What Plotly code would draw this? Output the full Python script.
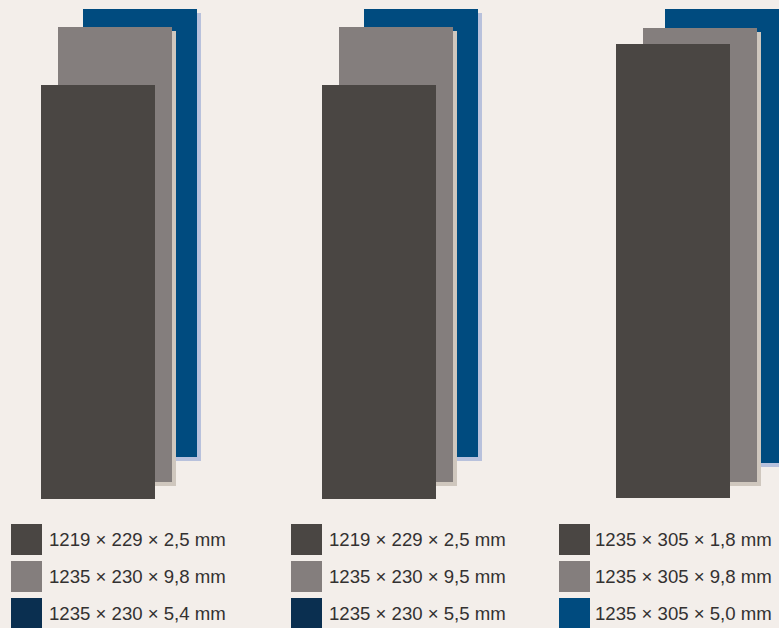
import plotly.graph_objects as go

# ---- data ----
group_labels = [
    ["1219 × 229 × 2,5 mm", "1235 × 230 × 9,8 mm", "1235 × 230 × 5,4 mm"],
    ["1219 × 229 × 2,5 mm", "1235 × 230 × 9,5 mm", "1235 × 230 × 5,5 mm"],
    ["1235 × 305 × 1,8 mm", "1235 × 305 × 9,8 mm", "1235 × 305 × 5,0 mm"],
]
# top / bottom of each tile (screen units), order: dark, gray, blue
tile_tops = [[85, 27, 9], [85, 27, 9], [44, 28, 9]]
tile_bottoms = [[499, 482, 457], [499, 482, 457], [498, 482, 463]]

# ---- layout / style ----
W, H = 779, 628
BG = "#f3eeea"
C_DARK = "#4a4643"
C_GRAY = "#847e7d"
C_BLUE = "#004b7f"
C_NAVY = "#0a2f50"
SH_GRAY = "#cfc7be"
SH_BLUE = "#b8c1dc"
TILE_W = 114
SH = 4
group_left_dark = [41, 322, 616]
group_left_gray = [58, 339, 643]
group_left_blue = [83, 364, 665]
legend_sq_x = [11, 291, 559]
legend_txt_x = [47, 327, 593]
legend_row_y = [539.5, 576.5, 613.5]
legend_colors = [[C_DARK, C_GRAY, C_NAVY], [C_DARK, C_GRAY, C_NAVY], [C_DARK, C_GRAY, C_BLUE]]

fig = go.Figure()

def add_bar(lefts, tops, bottoms, color, dx=0, dy=0):
    fig.add_trace(go.Bar(
        x=[l + TILE_W / 2 + dx for l in lefts],
        base=[t + dy for t in tops],
        y=[b - t for t, b in zip(tops, bottoms)],
        width=TILE_W,
        marker=dict(color=color, line=dict(width=0)),
        hoverinfo="skip", showlegend=False,
    ))

blue_t = [g[2] for g in tile_tops]; blue_b = [g[2] for g in tile_bottoms]
gray_t = [g[1] for g in tile_tops]; gray_b = [g[1] for g in tile_bottoms]
dark_t = [g[0] for g in tile_tops]; dark_b = [g[0] for g in tile_bottoms]

add_bar(group_left_blue, blue_t, blue_b, SH_BLUE, SH, SH)
add_bar(group_left_blue, blue_t, blue_b, C_BLUE)
add_bar(group_left_gray, gray_t, gray_b, SH_GRAY, SH, SH)
add_bar(group_left_gray, gray_t, gray_b, C_GRAY)
add_bar(group_left_dark, dark_t, dark_b, C_DARK)

# legend squares
for gi in range(3):
    fig.add_trace(go.Scatter(
        x=[legend_sq_x[gi] + 15.5] * 3, y=legend_row_y,
        mode="markers",
        marker=dict(symbol="square", size=31, color=legend_colors[gi], line=dict(width=0)),
        hoverinfo="skip", showlegend=False,
    ))
    for ri, lab in enumerate(group_labels[gi]):
        fig.add_annotation(
            x=legend_txt_x[gi], y=legend_row_y[ri], text=lab,
            xanchor="left", yanchor="middle", showarrow=False,
            font=dict(family="Liberation Sans, Arial, sans-serif", size=18.6, color="#333131"),
        )

fig.update_layout(
    width=W, height=H,
    margin=dict(l=0, r=0, t=0, b=0),
    paper_bgcolor=BG, plot_bgcolor=BG,
    barmode="overlay", bargap=0,
    xaxis=dict(range=[0, W], visible=False, fixedrange=True),
    yaxis=dict(range=[H, 0], visible=False, fixedrange=True),
    showlegend=False,
)

fig.write_html(
    "out.html",
    config={"displayModeBar": False},
    post_script="document.body.style.margin='0';document.body.style.padding='0';document.body.style.background='%s';" % BG,
)
